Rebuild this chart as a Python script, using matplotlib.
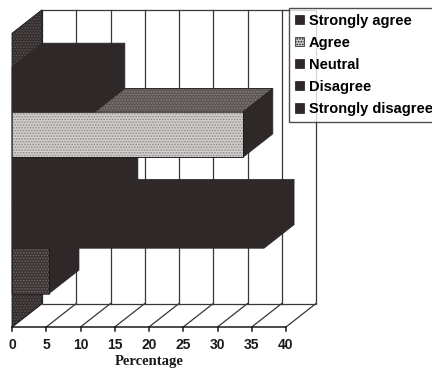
import matplotlib
matplotlib.use("Agg")
import matplotlib.pyplot as plt
from matplotlib.patches import Polygon, Patch

# ---- data ----
categories = ["Strongly agree", "Agree", "Neutral", "Disagree", "Strongly disagree"]
values = [12.1, 33.7, 14.0, 36.8, 5.4]
x_ticks = [0, 5, 10, 15, 20, 25, 30, 35, 40]
x_label = "Percentage"

# ---- styling / layout ----
W, H = 432, 372
PX_PER_X = 6.85          # pixels per percent unit
PX_PER_Y = 45.4          # pixels per bar slot
X0_PX, FLOOR_PX = 12, 45  # front origin in pixels (from left / from bottom)
DX = 30 / PX_PER_X        # depth offset (x)
DY = 23.5 / PX_PER_Y      # depth offset (y)
GAP = 0.735
TOP = len(categories) + 2 * GAP
XMAX = 40

DARK = "#2e2828"
EDGE = "#1c1818"
GRID = "#3a3636"

fig = plt.figure(figsize=(W / 100, H / 100), dpi=100)
ax = fig.add_axes([0, 0, 1, 1])
ax.set_xlim(-X0_PX / PX_PER_X, (W - X0_PX) / PX_PER_X)
ax.set_ylim(-FLOOR_PX / PX_PER_Y, (H - FLOOR_PX) / PX_PER_Y)
ax.axis("off")

def poly(pts, fc, ec="none", lw=0.0, hatch=None, hc=None, z=1):
    ax.add_patch(Polygon(pts, closed=True, facecolor=fc, edgecolor="none", lw=0, zorder=z))
    if hatch:
        ax.add_patch(Polygon(pts, closed=True, fill=False, hatch=hatch, edgecolor=hc, lw=0, zorder=z))
    if ec != "none":
        ax.add_patch(Polygon(pts, closed=True, fill=False, edgecolor=ec, lw=lw, zorder=z))

# back wall
poly([(DX, DY), (DX + XMAX, DY), (DX + XMAX, DY + TOP), (DX, DY + TOP)], "white", GRID, 0.9, z=1)
for t in x_ticks[1:-1]:
    ax.plot([DX + t, DX + t], [DY, DY + TOP], color=GRID, lw=0.9, zorder=1.1)
# floor
for t in x_ticks:
    ax.plot([t, t + DX], [0, DY], color=GRID, lw=0.9, zorder=1.1)
ax.plot([0, XMAX], [0, 0], color=EDGE, lw=1.1, zorder=1.2)
for t in x_ticks:
    ax.plot([t, t], [0, -4 / PX_PER_Y], color=EDGE, lw=1.1, zorder=1.2)

# side wall
plt.rcParams["hatch.linewidth"] = 0.8
poly([(0, 0), (0, TOP), (DX, TOP + DY), (DX, DY)], "#332d2d", EDGE, 0.6,
     hatch="......", hc="#5e5656", z=2)

# bars (draw bottom first)
styles = {
    "Strongly agree": dict(front=None, top=None),
    "Agree": dict(front=("#d2cfcf", "......", "#8c8888"), top=("#5a5454", "......", "#888282")),
    "Neutral": dict(front=None, top=None),
    "Disagree": dict(front=None, top=None),
    "Strongly disagree": dict(front=("#3a3333", "......", "#6e6666"), top=None),
}
n = len(categories)
for i in range(n - 1, -1, -1):
    name, v = categories[i], values[i]
    yb = GAP + (n - 1 - i)
    yt = yb + 1
    st = styles[name]
    z = 3 + (n - i)
    # whole silhouette in dark (side face + any plain faces)
    poly([(0, yb), (v, yb), (v + DX, yb + DY), (v + DX, yt + DY), (DX, yt + DY), (0, yt)],
         DARK, DARK, 0.5, z=z)
    if st["top"]:
        fc, h, hc = st["top"]
        poly([(0, yt), (v, yt), (v + DX, yt + DY), (DX, yt + DY)], fc, EDGE, 0.5, h, hc, z)
    if st["front"]:
        fc, h, hc = st["front"]
        poly([(0, yb), (v, yb), (v, yt), (0, yt)], fc, EDGE, 0.5, h, hc, z)

# tick labels
for t in x_ticks:
    ax.text(t, -18 / PX_PER_Y, str(t), ha="center", va="center",
            fontsize=10, fontweight="bold", family="Liberation Sans", color="#1a1a1a")
ax.text(XMAX / 2, -35 / PX_PER_Y, x_label, ha="center", va="center",
        fontsize=10.5, fontweight="bold", family="Liberation Serif", color="#1a1a1a")

# legend
handles = []
for name in categories:
    if name == "Agree":
        fc, h, hc = styles[name]["front"]
    else:
        fc, h = DARK, None
    handles.append(Patch(facecolor=fc, edgecolor=EDGE, hatch=h, lw=0.5, label=name))
leg = ax.legend(handles=handles, loc="upper left",
                bbox_to_anchor=(289 / W, 1 - 8 / H), bbox_transform=fig.transFigure,
                prop=dict(family="Liberation Sans", weight="bold", size=10.5),
                frameon=True, fancybox=False, borderpad=0.4, labelspacing=0.55,
                handlelength=0.62, handleheight=0.62, handletextpad=0.35,
                borderaxespad=0)
leg.get_frame().set_edgecolor("#222222")
leg.get_frame().set_linewidth(1.0)
leg.set_zorder(20)

fig.savefig("out.png", dpi=100)
